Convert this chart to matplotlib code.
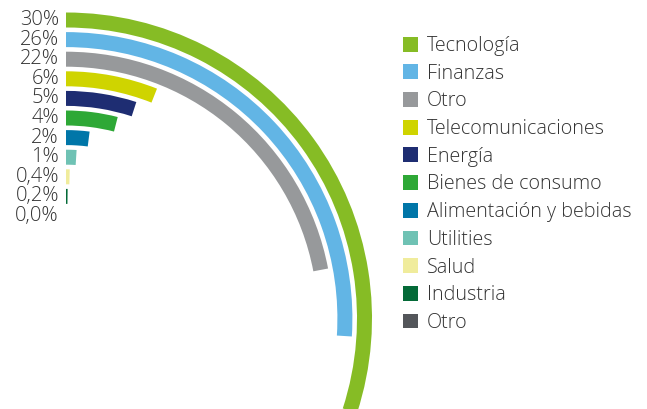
import numpy as np
import matplotlib
matplotlib.use("Agg")
import matplotlib.pyplot as plt

# sector weights, outermost ring first
sectors = ["Tecnología", "Finanzas", "Otro", "Telecomunicaciones", "Energía",
           "Bienes de consumo", "Alimentación y bebidas", "Utilities", "Salud",
           "Industria", "Otro"]
weights = [30, 26, 22, 6, 5, 4, 2, 1, 0.4, 0.2, 0.0]
colors = ["#86bc25", "#62b5e5", "#97999b", "#cfd400", "#1e2d72",
          "#2ea836", "#0076a8", "#6fc2b4", "#f0ec9c", "#046a38", "#53565a"]

W, H, DPI = 647, 409, 100
fig = plt.figure(figsize=(W / DPI, H / DPI), dpi=DPI)

# polar axes sized so that one radial unit is one pixel
cx, cy, R = 66, H - 318.5, 320
ax = fig.add_axes([(cx - R) / W, (cy - R) / H, 2 * R / W, 2 * R / H],
                  projection="polar")
ax.set_theta_zero_location("N")
ax.set_theta_direction(-1)
ax.set_ylim(0, R)
ax.set_axis_off()

step = 19.6
radii = 298.5 - step * np.arange(len(weights))
angles = np.deg2rad(np.array(weights) * 3.6)
bars = ax.barh(radii, angles, left=0, height=15, color=colors,
               edgecolor="none", align="center")

font = dict(family=["Open Sans", "DejaVu Sans"], weight="light", color="#333333")

def pct(v):
    return f"{v:.0f}%" if v >= 1 else f"{v:.1f}%".replace(".", ",")

for r, v in zip(radii, weights):
    ax.annotate(pct(v), xy=(0, r), xytext=(-7, 0), textcoords="offset pixels",
                ha="right", va="center", fontsize=14.5, **font)

leg = fig.legend(list(bars), sectors, loc="upper left",
                 bbox_to_anchor=(403 / W, 1 - 36 / H), frameon=False,
                 borderpad=0, borderaxespad=0, handlelength=0.78,
                 handleheight=0.78, handletextpad=0.42, labelspacing=0.39,
                 prop=dict(family="Open Sans", weight="light", size=14.2))
for t in leg.get_texts():
    t.set_color("#333333")

fig.savefig("out.png", dpi=DPI)
